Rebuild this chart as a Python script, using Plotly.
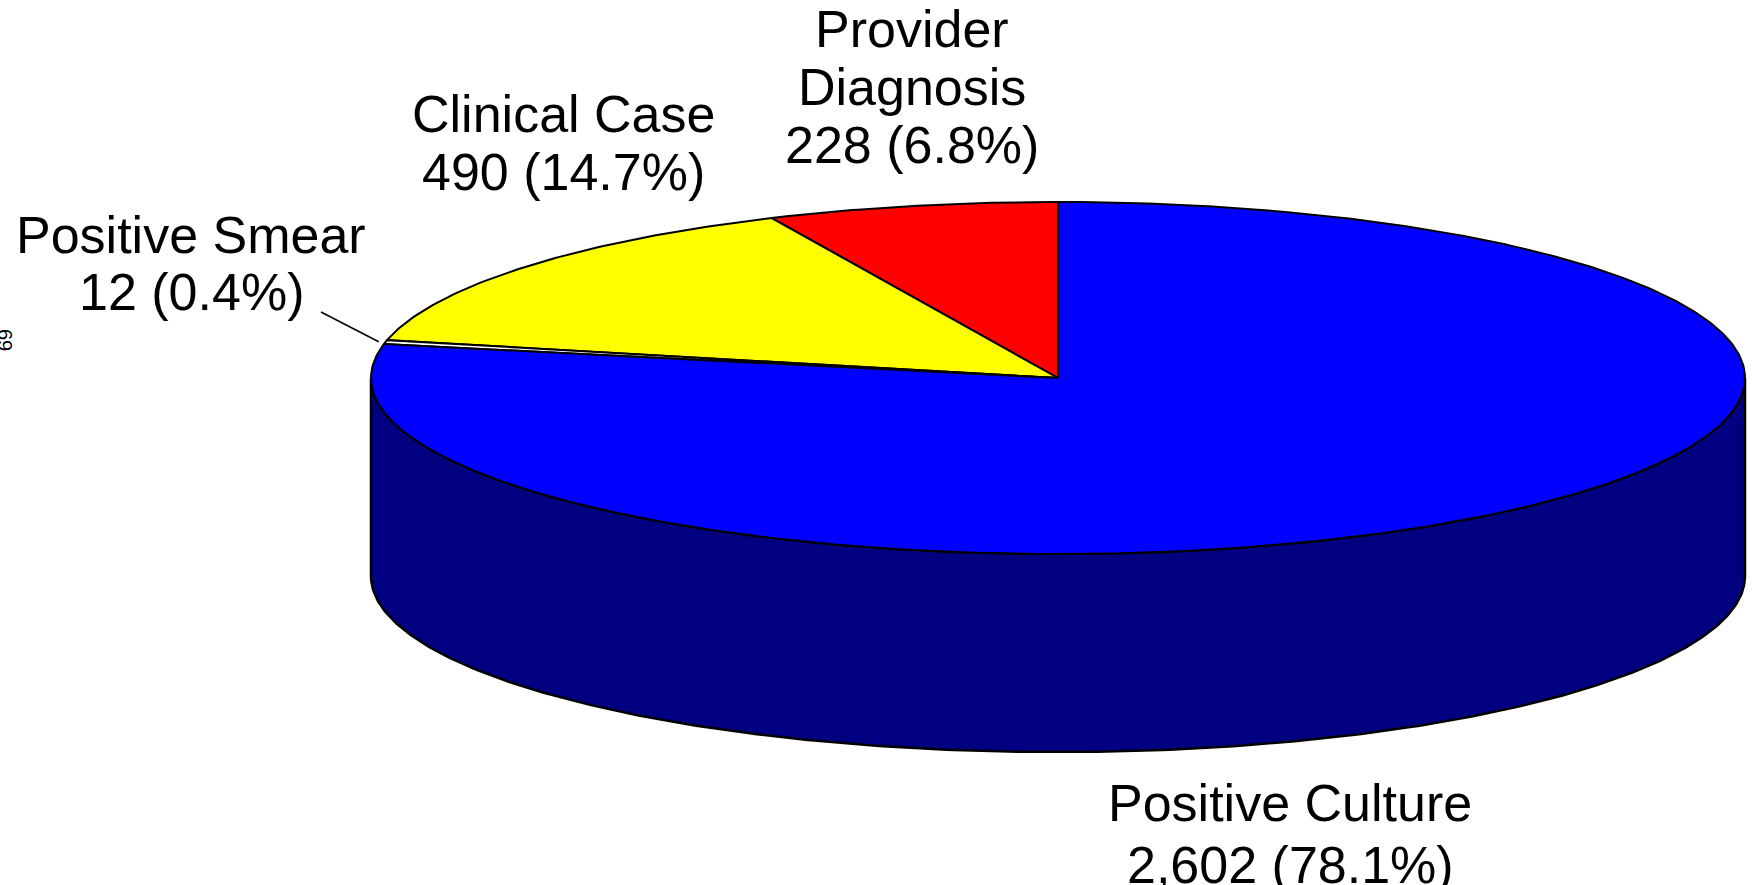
import numpy as np
import plotly.graph_objects as go

# ---- data ----
categories = ["Provider Diagnosis", "Clinical Case", "Positive Smear", "Positive Culture"]
counts = [228, 490, 12, 2602]
label_lines = [["Provider", "Diagnosis"], ["Clinical Case"], ["Positive Smear"], ["Positive Culture"]]
slice_colors = ["#ff0000", "#ffff00", "#ffffff", "#0000ff"]
side_color = "#000080"

# ---- layout parameters (pixel space) ----
W, H = 1752, 885
cx, cy = 1058, 378          # centre of top face
rx, ry = 687, 176           # radii of top ellipse
depth = 198                 # thickness of pie
start_deg = 90.0            # first slice starts at 12 o'clock, counter-clockwise

label_x = [912, 563, 191, 1290]
label_y = [28.5, 113.5, 235, 803]
label_dy = [58, 58, 57, 62]
FONT = "Liberation Sans, Arial, sans-serif"
FS = 52
EDGE_W = 2.5

total = float(sum(counts))
fracs = [c / total for c in counts]


def pt(theta_deg, dy=0.0, scale=1.0):
    t = np.radians(theta_deg)
    return cx + scale * rx * np.cos(t), cy - scale * ry * np.sin(t) + dy


fig = go.Figure()

# side wall (front half of the pie, visible part)
th = np.linspace(180, 360, 300)
xs_top, ys_top = pt(th)
xs_bot, ys_bot = pt(th[::-1], dy=depth)
fig.add_trace(go.Scatter(
    x=np.concatenate([xs_top, xs_bot, xs_top[:1]]),
    y=np.concatenate([ys_top, ys_bot, ys_top[:1]]),
    mode="lines", fill="toself", fillcolor=side_color,
    line=dict(color="black", width=EDGE_W), hoverinfo="skip", showlegend=False))

# top face slices
a0 = start_deg
mids = []
for cat, f, col in zip(categories, fracs, slice_colors):
    a1 = a0 + 360.0 * f
    n = max(int(abs(a1 - a0) * 2), 4)
    th = np.linspace(a0, a1, n)
    ax_, ay_ = pt(th)
    fig.add_trace(go.Scatter(
        x=np.concatenate([[cx], ax_, [cx]]),
        y=np.concatenate([[cy], ay_, [cy]]),
        mode="lines", fill="toself", fillcolor=col,
        line=dict(color="black", width=2), name=cat,
        hoverinfo="name", showlegend=False))
    mids.append((a0 + a1) / 2.0)
    a0 = a1

# labels
for i, (cat, c, f) in enumerate(zip(categories, counts, fracs)):
    lines = label_lines[i] + [f"{c:,} ({100 * f:.1f}%)"]
    for k, txt in enumerate(lines):
        fig.add_annotation(x=label_x[i], y=label_y[i] + k * label_dy[i], text=txt,
                           showarrow=False, xanchor="center", yanchor="middle",
                           font=dict(family=FONT, size=FS, color="black"))

# leader line for the tiny "Positive Smear" slice
ex, ey = pt(mids[2], scale=1.01)
fig.add_trace(go.Scatter(x=[321, ex], y=[312, ey], mode="lines",
                         line=dict(color="black", width=1.5),
                         hoverinfo="skip", showlegend=False))

# stray clipped axis text at the left edge
fig.add_annotation(x=5, y=340, text="69", showarrow=False, textangle=90,
                   font=dict(family=FONT, size=20, color="black"))

fig.update_xaxes(range=[0, W], visible=False, fixedrange=True)
fig.update_yaxes(range=[H, 0], visible=False, fixedrange=True)
fig.update_layout(width=W, height=H, margin=dict(l=0, r=0, t=0, b=0),
                  paper_bgcolor="white", plot_bgcolor="white", showlegend=False)

fig.write_html("out.html", config={"displayModeBar": False},
               post_script="document.body.style.margin='0';document.body.style.overflow='hidden';")
